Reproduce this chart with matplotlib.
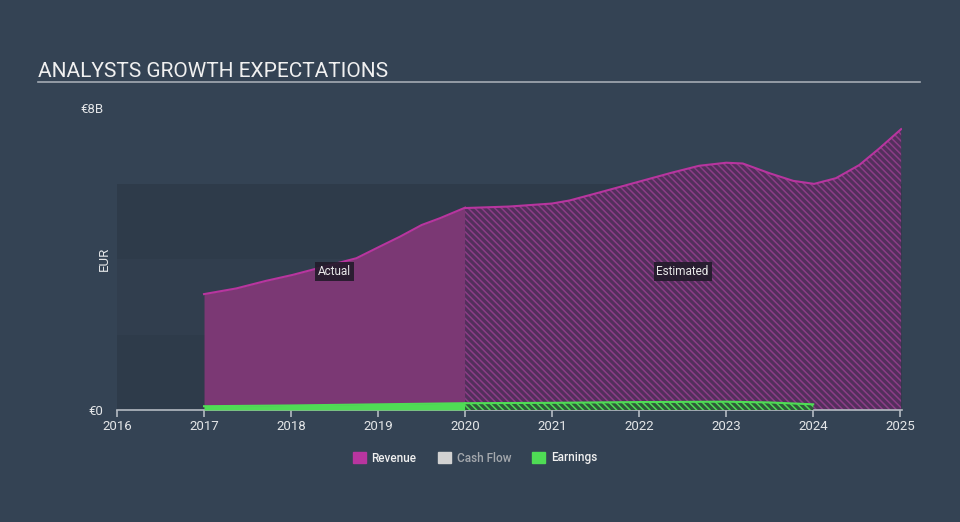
import matplotlib
matplotlib.use('Agg')
import matplotlib.pyplot as plt
from matplotlib.patches import Patch
from matplotlib.lines import Line2D

plt.rcParams['font.family'] = ['Roboto', 'DejaVu Sans']
plt.rcParams['hatch.linewidth'] = 1.1

# revenue, billions EUR
rev_actual_x = [2017.0, 2017.37, 2017.71, 2018.02, 2018.4, 2018.75, 2019.02, 2019.25, 2019.5, 2019.71, 2020.0]
rev_actual_y = [3.07, 3.22, 3.42, 3.58, 3.81, 4.02, 4.33, 4.59, 4.90, 5.08, 5.36]
rev_est_x = [2020.0, 2020.51, 2021.0, 2021.2, 2021.54, 2022.0, 2022.38, 2022.69, 2023.0, 2023.19,
             2023.5, 2023.77, 2024.01, 2024.26, 2024.53, 2024.76, 2025.01]
rev_est_y = [5.35, 5.39, 5.47, 5.55, 5.76, 6.05, 6.29, 6.47, 6.55, 6.53,
             6.27, 6.07, 5.99, 6.14, 6.49, 6.93, 7.44]

# earnings, billions EUR
earn_actual_x = [2017.0, 2018.0, 2019.0, 2020.0]
earn_actual_y = [0.10, 0.12, 0.15, 0.18]
earn_est_x = [2020.0, 2021.0, 2022.0, 2023.0, 2023.5, 2024.0]
earn_est_y = [0.18, 0.19, 0.21, 0.22, 0.20, 0.15]

years = [2016, 2017, 2018, 2019, 2020, 2021, 2022, 2023, 2024, 2025]

bg = '#344354'
rev_line = '#b8359f'
rev_fill = '#7b3874'
green = '#4fdc55'

fig = plt.figure(figsize=(9.6, 5.22), dpi=100, facecolor=bg)
ax = fig.add_axes([117 / 960, 112 / 522, 785 / 960, 302 / 522])
ax.set_facecolor(bg)

# background bands
ax.axhspan(0, 2, color='#2e3b4a', lw=0, zorder=0)
ax.axhspan(2, 4, color='#313e4e', lw=0, zorder=0)
ax.axhspan(4, 6, color='#2e3b4a', lw=0, zorder=0)

# revenue
ax.fill_between(rev_actual_x, 0, rev_actual_y, color=rev_fill, lw=0, zorder=2)
ax.fill_between(rev_est_x, 0, rev_est_y, facecolor='#532f5c', edgecolor='#8c3d87',
                hatch='\\\\\\\\\\', lw=0, zorder=2)
ax.plot(rev_actual_x, rev_actual_y, color=rev_line, lw=1.5, zorder=3)
ax.plot(rev_est_x, rev_est_y, color=rev_line, lw=1.5, zorder=3)

# earnings
ax.fill_between(earn_actual_x, 0, earn_actual_y, color=green, lw=0, zorder=4)
ax.fill_between(earn_est_x, 0, earn_est_y, facecolor='#2f5a3a', edgecolor=green,
                hatch='\\\\\\\\\\', lw=0, zorder=4)
ax.plot(earn_actual_x, earn_actual_y, color=green, lw=1.5, zorder=5)
ax.plot(earn_est_x, earn_est_y, color=green, lw=1.5, zorder=5)

ax.set_xlim(2016, 2025.02)
ax.set_ylim(0, 8)

for s in ['top', 'right', 'left']:
    ax.spines[s].set_visible(False)
ax.spines['bottom'].set_color('#b4bac2')
ax.spines['bottom'].set_linewidth(1.2)
ax.set_xticks(years)
ax.set_xticklabels([str(y) for y in years])
ax.tick_params(axis='x', colors='#b4bac2', labelcolor='#e4e6e8', labelsize=9.5,
               length=5, width=1.2, pad=2)
ax.set_yticks([0, 8])
ax.set_yticklabels(['€0', '€8B'])
ax.tick_params(axis='y', length=0, labelcolor='#e4e6e8', labelsize=9.5, pad=10)
ax.text(-0.016, 0.5, 'EUR', transform=ax.transAxes, rotation=90, ha='center', va='center',
        color='#e4e6e8', fontsize=9.5)

box = dict(boxstyle='square,pad=0.25', facecolor='#221b2a', edgecolor='none', alpha=0.9)
ax.text(2018.5, 3.66, 'Actual', ha='center', va='center', color='#e8e8e8', fontsize=8.5,
        bbox=box, zorder=6)
ax.text(2022.5, 3.66, 'Estimated', ha='center', va='center', color='#e8e8e8', fontsize=8.5,
        bbox=box, zorder=6)

# title
fig.text(38 / 960, 1 - 77 / 522, 'ANALYSTS GROWTH EXPECTATIONS', color='#f0f0f0',
         fontsize=15, ha='left', va='baseline')
fig.add_artist(Line2D([38 / 960, 920 / 960], [1 - 82 / 522, 1 - 82 / 522],
                      color='#a4abb3', lw=1.2))

handles = [Patch(color=rev_line), Patch(color='#d2d2d2'), Patch(color=green)]
leg = fig.legend(handles, ['Revenue', 'Cash Flow', 'Earnings'], loc='center',
                 bbox_to_anchor=(475 / 960, 1 - 458 / 522), ncol=3, frameon=False,
                 fontsize=8.5, handlelength=1.1, handleheight=1.1, handletextpad=0.5,
                 columnspacing=1.8)
for t, c in zip(leg.get_texts(), ['#f0f0f0', '#a4a8ad', '#f0f0f0']):
    t.set_color(c)
    t.set_fontweight('medium')

fig.savefig('out.png', dpi=100, facecolor=bg)
